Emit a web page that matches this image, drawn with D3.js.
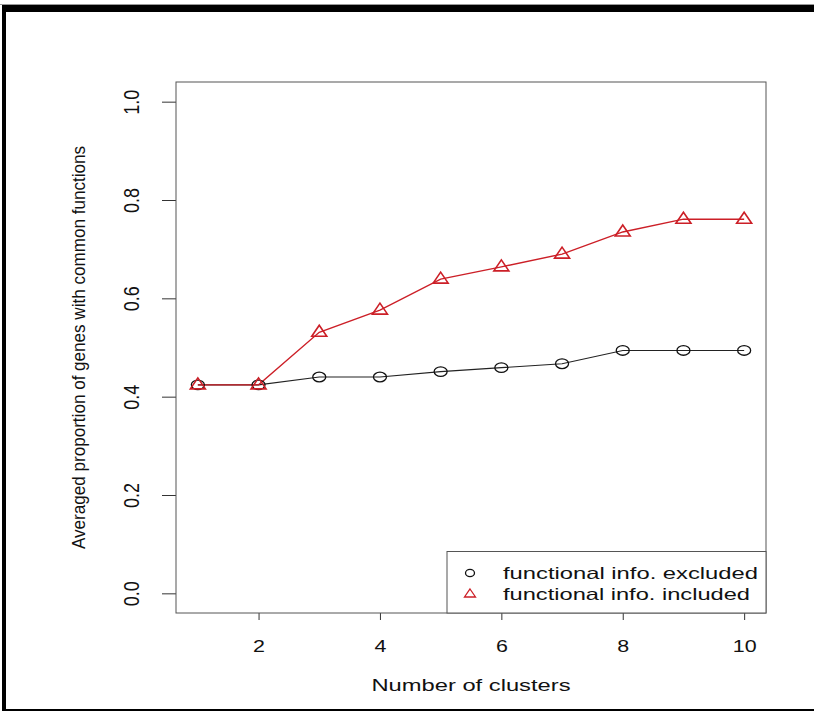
<!DOCTYPE html>
<html>
<head>
<meta charset="utf-8">
<script src="https://cdn.jsdelivr.net/npm/d3@7"></script>
<style>
  body { margin: 0; background: #fff; }
  text { font-family: "Liberation Sans", Arial, Helvetica, sans-serif; fill: #111; }
</style>
</head>
<body>
<svg id="chart" width="814" height="712"></svg>
<script>
// number of clusters
var clusters = [1, 2, 3, 4, 5, 6, 7, 8, 9, 10];
// averaged proportion, functional info excluded (circles)
var excluded = [0.424, 0.424, 0.440, 0.440, 0.451, 0.459, 0.467, 0.494, 0.494, 0.494];
// averaged proportion, functional info included (triangles)
var included = [0.424, 0.424, 0.531, 0.576, 0.639, 0.664, 0.690, 0.735, 0.761, 0.761];
var xTicks = [2, 4, 6, 8, 10];
var yTicks = [0, 0.2, 0.4, 0.6, 0.8, 1.0];
var legendLabels = ["functional info. excluded", "functional info. included"];

var svg = d3.select("#chart");
var box = { left: 176, right: 766, top: 82, bottom: 613 };
var red = "#cc1f27";

// frame round the picture
svg.append("line").attr("x1", 0).attr("x2", 814).attr("y1", 4.5).attr("y2", 4.5)
  .attr("stroke", "#999").attr("stroke-width", 1);
svg.append("rect").attr("x", 2).attr("y", 5).attr("width", 812).attr("height", 7).attr("fill", "#000");
svg.append("rect").attr("x", 2).attr("y", 5).attr("width", 4).attr("height", 706).attr("fill", "#000");
svg.append("rect").attr("x", 2).attr("y", 709).attr("width", 812).attr("height", 2).attr("fill", "#000");

// R style: 4% extension of the data range
var x = d3.scaleLinear().domain([0.64, 10.36]).range([box.left, box.right]);
var y = d3.scaleLinear().domain([-0.04, 1.04]).range([box.bottom, box.top]);

// x axis
var gx = svg.append("g").attr("transform", "translate(0," + box.bottom + ")")
  .call(d3.axisBottom(x).tickValues(xTicks).tickSize(7).tickPadding(20).tickFormat(d3.format("d")));
gx.select(".domain").remove();
gx.selectAll(".tick line").attr("stroke", "#333");
gx.selectAll(".tick text").attr("font-size", 16.5).attr("transform", "scale(1.3,1)");

// y axis, labels turned like R's (picture is stretched sideways)
var gy = svg.append("g").attr("transform", "translate(" + box.left + ",0)")
  .call(d3.axisLeft(y).tickValues(yTicks).tickSize(14).tickFormat(d3.format(".1f")));
gy.select(".domain").remove();
gy.selectAll(".tick line").attr("stroke", "#333");
gy.selectAll(".tick text")
  .attr("font-size", 18)
  .attr("transform", "scale(1.25,1) rotate(-90)")
  .attr("x", 0).attr("y", -30).attr("dy", 0)
  .style("text-anchor", "middle");

// plot box
svg.append("rect")
  .attr("x", box.left).attr("y", box.top)
  .attr("width", box.right - box.left).attr("height", box.bottom - box.top)
  .attr("fill", "none").attr("stroke", "#555").attr("stroke-width", 1);

// axis titles
svg.append("text")
  .attr("x", (box.left + box.right) / 2).attr("y", 691)
  .attr("text-anchor", "middle").attr("font-size", 16.5)
  .attr("textLength", 199).attr("lengthAdjust", "spacingAndGlyphs")
  .text("Number of clusters");

svg.append("text")
  .attr("transform", "translate(85," + (box.top + box.bottom) / 2 + ") scale(1.12,1) rotate(-90)")
  .attr("text-anchor", "middle").attr("font-size", 16.5)
  .attr("textLength", 403).attr("lengthAdjust", "spacingAndGlyphs")
  .text("Averaged proportion of genes with common functions");

// lines
var line = d3.line().x(function (d) { return x(d[0]); }).y(function (d) { return y(d[1]); });
var exPts = clusters.map(function (c, i) { return [c, excluded[i]]; });
var inPts = clusters.map(function (c, i) { return [c, included[i]]; });

svg.append("path").datum(exPts).attr("d", line)
  .attr("fill", "none").attr("stroke", "#222").attr("stroke-width", 1.1);
svg.append("path").datum(inPts).attr("d", line)
  .attr("fill", "none").attr("stroke", red).attr("stroke-width", 1.4);

var triangle = "M0,-7L7.5,4L-7.5,4Z";

svg.selectAll(".pt-ex").data(exPts).enter().append("ellipse")
  .attr("class", "pt-ex")
  .attr("cx", function (d) { return x(d[0]); })
  .attr("cy", function (d) { return y(d[1]); })
  .attr("rx", 6.5).attr("ry", 4.8)
  .attr("fill", "none").attr("stroke", "#111").attr("stroke-width", 1.3);

svg.selectAll(".pt-in").data(inPts).enter().append("path")
  .attr("class", "pt-in")
  .attr("transform", function (d) { return "translate(" + x(d[0]) + "," + y(d[1]) + ")"; })
  .attr("d", triangle)
  .attr("fill", "none").attr("stroke", red).attr("stroke-width", 1.6);

// legend
var lg = svg.append("g");
lg.append("rect").attr("x", 447).attr("y", 551.5).attr("width", box.right - 447).attr("height", box.bottom - 551.5)
  .attr("fill", "#fff").attr("stroke", "#555").attr("stroke-width", 1);
lg.append("ellipse").attr("cx", 470).attr("cy", 573).attr("rx", 4.5).attr("ry", 3.6)
  .attr("fill", "none").attr("stroke", "#111").attr("stroke-width", 1.3);
lg.append("path").attr("transform", "translate(470,594)").attr("d", "M0,-5L5.5,3L-5.5,3Z")
  .attr("fill", "none").attr("stroke", red).attr("stroke-width", 1.3);
lg.selectAll(".lt").data(legendLabels).enter().append("text")
  .attr("class", "lt")
  .attr("x", 503)
  .attr("y", function (d, i) { return 579 + i * 21; })
  .attr("font-size", 16.5)
  .attr("textLength", function (d, i) { return i === 0 ? 255 : 247; })
  .attr("lengthAdjust", "spacingAndGlyphs")
  .text(function (d) { return d; });
</script>
</body>
</html>
